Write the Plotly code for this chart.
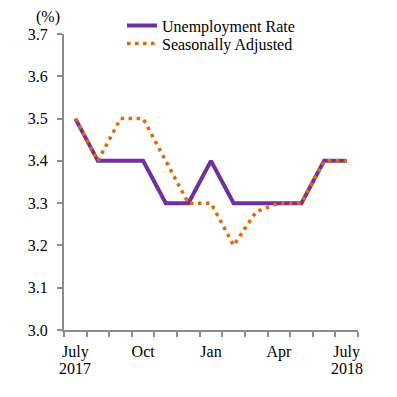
import plotly.graph_objects as go

months = ["Jul 2017", "Aug 2017", "Sep 2017", "Oct 2017", "Nov 2017", "Dec 2017",
          "Jan 2018", "Feb 2018", "Mar 2018", "Apr 2018", "May 2018", "Jun 2018", "Jul 2018"]
unemployment = [3.5, 3.4, 3.4, 3.4, 3.3, 3.3, 3.4, 3.3, 3.3, 3.3, 3.3, 3.4, 3.4]
seasonal = [3.5, 3.4, 3.5, 3.5, 3.4, 3.3, 3.3, 3.2, 3.28, 3.3, 3.3, 3.4, 3.4]
tick_idx = [0, 3, 6, 9, 12]
tick_text = ["July", "Oct", "Jan", "Apr", "July"]
year_idx = [0, 12]
year_text = ["2017", "2018"]
y_ticks = [3.0, 3.1, 3.2, 3.3, 3.4, 3.5, 3.6, 3.7]

x = list(range(len(months)))
FONT = "Liberation Serif"
GRAY = "#8c8c8c"

# page body has an 8px margin; compensate so the plot lands where the reference has it
OFF = 8
W = H = 397 - OFF
ML, MR, MT, MB = 64 - OFF, 39, 34 - OFF, 67
PW = W - ML - MR
PH = H - MT - MB


def px_x(px):  # page x px -> paper
    return (px - OFF - ML) / PW


def px_y(py):  # page y px -> paper
    return (H - MB - (py - OFF)) / PH


fig = go.Figure()
fig.add_trace(go.Scatter(x=x, y=unemployment, mode="lines", name="Unemployment Rate",
                         line=dict(color="#7030a0", width=4), legend="legend"))
fig.add_trace(go.Scatter(x=x, y=seasonal, mode="lines", name="Seasonally Adjusted",
                         line=dict(color="#dd6b0c", width=3.5, dash="3.5px,4.5px"), legend="legend2"))

leg_common = dict(xanchor="left", yanchor="middle", bgcolor="rgba(0,0,0,0)",
                  font=dict(size=16, family=FONT), borderwidth=0)

annotations = [dict(text="(%)", xref="paper", yref="paper", x=px_x(48), y=px_y(17),
                    showarrow=False, xanchor="center", yanchor="middle", font=dict(size=16))]
for xi, yt in zip(year_idx, year_text):
    annotations.append(dict(text=yt, xref="x", yref="paper", x=xi, y=px_y(368),
                            showarrow=False, xanchor="center", yanchor="middle",
                            font=dict(size=16)))

fig.update_layout(
    width=W, height=H,
    margin=dict(l=ML, r=MR, t=MT, b=MB, autoexpand=False),
    paper_bgcolor="white", plot_bgcolor="white",
    font=dict(family=FONT, size=16, color="black"),
    showlegend=True,
    legend=dict(x=px_x(122), y=px_y(25.5), **leg_common),
    legend2=dict(x=px_x(122), y=px_y(43.5), **leg_common),
    xaxis=dict(range=[-0.5, len(months) - 0.5], showline=True, linecolor=GRAY, linewidth=2,
               tickmode="array", tickvals=tick_idx, ticktext=tick_text,
               ticks="", showgrid=False, zeroline=False, ticklabelstandoff=6,
               minor=dict(tickmode="array", tickvals=[i - 0.5 for i in range(len(months) + 1)],
                          ticks="outside", ticklen=5, tickcolor=GRAY, tickwidth=2, showgrid=False)),
    yaxis=dict(range=[3.0, 3.7], showline=True, linecolor=GRAY, linewidth=2,
               tickmode="array", tickvals=y_ticks, tickformat=".1f",
               ticks="outside", ticklen=5, tickcolor=GRAY, tickwidth=2, ticklabelstandoff=6,
               showgrid=False, zeroline=False),
    annotations=annotations,
)

fig.write_html("out.html")
